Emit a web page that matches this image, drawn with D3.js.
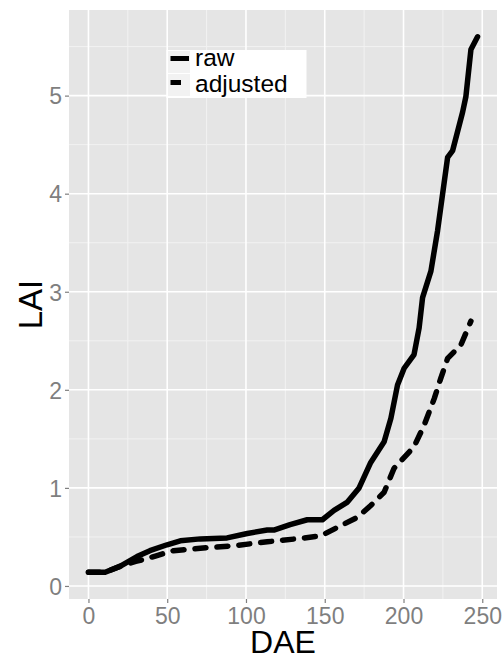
<!DOCTYPE html>
<html>
<head>
<meta charset="utf-8">
<script src="https://cdn.jsdelivr.net/npm/d3@7"></script>
<style>
  body { margin: 0; background: #fff; }
  svg { display: block; font-family: "Liberation Sans", Arial, sans-serif; }
</style>
</head>
<body>
<svg id="chart" width="502" height="659"></svg>
<script>
// values
const rawDae = [0, 10.6, 20, 30.8, 39, 49.9, 58.3, 71, 88, 100.8, 113.5, 117.7, 128, 138.9, 148.5,
    155.9, 164.4, 171.8, 179.2, 187.7, 192, 196.2, 200.4, 206.7, 209.9, 212.1, 217.4, 221.6,
    228, 231.2, 237.5, 239.6, 242.8, 247];
const rawLai = [0.14, 0.14, 0.2, 0.3, 0.36, 0.42, 0.46, 0.48, 0.49, 0.535, 0.57, 0.57, 0.625, 0.675, 0.675,
    0.77, 0.855, 1.0, 1.26, 1.47, 1.71, 2.05, 2.22, 2.36, 2.63, 2.94, 3.21, 3.62,
    4.37, 4.44, 4.83, 4.99, 5.47, 5.6];

const adjDae = [0, 10.6, 20, 30, 35, 43.5, 54, 71, 92.2, 113.5, 134.7, 147.4, 155.9, 170.7,
    179.2, 187.7, 194, 206.7, 213.1, 219.5, 223.7, 228, 236.5, 242.8];
const adjLai = [0.14, 0.14, 0.2, 0.25, 0.27, 0.31, 0.36, 0.385, 0.41, 0.45, 0.485, 0.51, 0.58, 0.7,
    0.82, 0.955, 1.2, 1.42, 1.64, 1.91, 2.12, 2.32, 2.46, 2.7];

const seriesNames = ['raw', 'adjusted'];
const xTicks = [0, 50, 100, 150, 200, 250];
const yTicks = [0, 1, 2, 3, 4, 5];
const xMinor = [25, 75, 125, 175, 225];
const yMinor = [0.5, 1.5, 2.5, 3.5, 4.5, 5.5];

const panel = { left: 69, top: 10, right: 497, bottom: 599 };
const tickColor = '#7f7f7f';

const svg = d3.select('#chart');

// ggplot style 5% expansion
function expand(ext) {
    const pad = (ext[1] - ext[0]) * 0.05;
    return [ext[0] - pad, ext[1] + pad];
}

const x = d3.scaleLinear()
    .domain(expand(d3.extent(rawDae.concat(adjDae))))
    .range([panel.left, panel.right]);
const y = d3.scaleLinear()
    .domain(expand(d3.extent(rawLai.concat(adjLai))))
    .range([panel.bottom, panel.top]);

svg.append('rect')
    .attr('x', panel.left)
    .attr('y', panel.top)
    .attr('width', panel.right - panel.left)
    .attr('height', panel.bottom - panel.top)
    .attr('fill', '#e5e5e5');

const grid = svg.append('g');

grid.selectAll('.xminor')
    .data(xMinor)
    .enter().append('line')
    .attr('x1', d => x(d)).attr('x2', d => x(d))
    .attr('y1', panel.top).attr('y2', panel.bottom)
    .attr('stroke', '#f2f2f2').attr('stroke-width', 1);

grid.selectAll('.yminor')
    .data(yMinor)
    .enter().append('line')
    .attr('y1', d => y(d)).attr('y2', d => y(d))
    .attr('x1', panel.left).attr('x2', panel.right)
    .attr('stroke', '#f2f2f2').attr('stroke-width', 1);

grid.selectAll('.xmajor')
    .data(xTicks)
    .enter().append('line')
    .attr('x1', d => x(d)).attr('x2', d => x(d))
    .attr('y1', panel.top).attr('y2', panel.bottom)
    .attr('stroke', '#fff').attr('stroke-width', 1.6);

grid.selectAll('.ymajor')
    .data(yTicks)
    .enter().append('line')
    .attr('y1', d => y(d)).attr('y2', d => y(d))
    .attr('x1', panel.left).attr('x2', panel.right)
    .attr('stroke', '#fff').attr('stroke-width', 1.6);

// axes
const xAxis = svg.append('g')
    .attr('transform', `translate(0,${panel.bottom})`)
    .call(d3.axisBottom(x).tickValues(xTicks).tickFormat(d3.format('d')).tickSize(4).tickPadding(5));
const yAxis = svg.append('g')
    .attr('transform', `translate(${panel.left},0)`)
    .call(d3.axisLeft(y).tickValues(yTicks).tickFormat(d3.format('d')).tickSize(4).tickPadding(3));

[xAxis, yAxis].forEach(ax => {
    ax.select('.domain').remove();
    ax.selectAll('.tick line').attr('stroke', tickColor).attr('stroke-width', 1.2);
    ax.selectAll('.tick text')
        .attr('fill', tickColor)
        .style('font-size', '23px')
        .style('font-family', '"Liberation Sans", Arial, sans-serif');
});
yAxis.selectAll('.tick text').attr('dy', '0.36em');

// lines
const line = d3.line()
    .x(d => x(d[0]))
    .y(d => y(d[1]));

const rawPts = rawDae.map((d, i) => [d, rawLai[i]]);
const adjPts = adjDae.map((d, i) => [d, adjLai[i]]);

svg.append('path')
    .datum(adjPts)
    .attr('d', line)
    .attr('fill', 'none')
    .attr('stroke', '#000')
    .attr('stroke-width', 5.5)
    .attr('stroke-linejoin', 'round')
    .attr('stroke-linecap', 'round')
    .attr('stroke-dasharray', '11,11');

svg.append('path')
    .datum(rawPts)
    .attr('d', line)
    .attr('fill', 'none')
    .attr('stroke', '#000')
    .attr('stroke-width', 5.5)
    .attr('stroke-linejoin', 'round')
    .attr('stroke-linecap', 'round');

// axis titles
svg.append('text')
    .attr('x', (panel.left + panel.right) / 2)
    .attr('y', 653)
    .attr('text-anchor', 'middle')
    .style('font-size', '32px')
    .text('DAE');

svg.append('text')
    .attr('transform', `translate(42,${(panel.top + panel.bottom) / 2}) rotate(-90)`)
    .attr('text-anchor', 'middle')
    .style('font-size', '33px')
    .text('LAI');

// legend
const legend = svg.append('g');
legend.append('rect')
    .attr('x', 166.5).attr('y', 50)
    .attr('width', 140).attr('height', 48)
    .attr('fill', '#fff');

const keys = legend.selectAll('.key')
    .data(seriesNames)
    .enter().append('g')
    .attr('transform', (d, i) => `translate(168,${51 + i * 23})`);

keys.append('rect')
    .attr('width', 22).attr('height', 22)
    .attr('fill', '#f2f2f2');

keys.append('line')
    .attr('x1', 2.5).attr('x2', d => d === 'raw' ? 21 : 13)
    .attr('y1', d => d === 'raw' ? 7.5 : 8.5).attr('y2', d => d === 'raw' ? 7.5 : 8.5)
    .attr('stroke', '#000')
    .attr('stroke-width', 5);

keys.append('text')
    .attr('x', 27)
    .attr('y', (d, i) => i === 0 ? 14.5 : 17.5)
    .style('font-size', '24.5px')
    .text(d => d);
</script>
</body>
</html>
